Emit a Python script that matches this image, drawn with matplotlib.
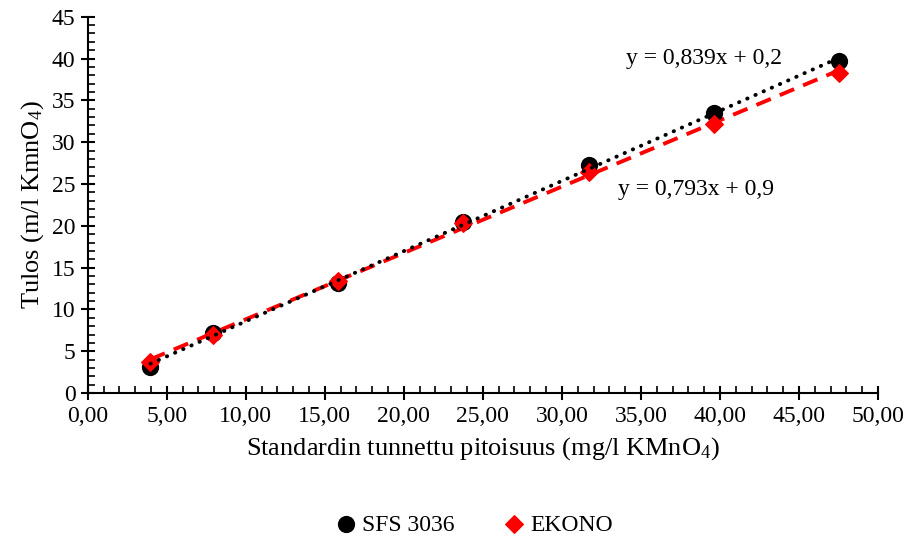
import numpy as np
import matplotlib
matplotlib.use("Agg")
import matplotlib.pyplot as plt
from matplotlib.ticker import MultipleLocator, FuncFormatter

plt.rcParams['font.family'] = ['Liberation Serif', 'DejaVu Serif']
plt.rcParams['mathtext.fontset'] = 'custom'
plt.rcParams['mathtext.rm'] = 'Liberation Serif'
plt.rcParams['mathtext.it'] = 'Liberation Serif:italic'

# data
standard = [3.96, 7.92, 15.85, 23.77, 31.69, 39.62, 47.54]
sfs_3036 = [3.1, 7.2, 13.2, 20.4, 27.3, 33.5, 39.7]
ekono = [3.7, 6.9, 13.4, 20.3, 26.4, 32.2, 38.3]
sfs_fit = (0.839, 0.2)
ekono_fit = (0.793, 0.9)
sfs_eq = "y = 0,839x + 0,2"
ekono_eq = "y = 0,793x + 0,9"

fig = plt.figure(figsize=(9.06, 5.40), dpi=100)
ax = fig.add_axes([0.097, 0.272, 0.872, 0.697])

x = np.array(standard)
ax.scatter(x, sfs_3036, s=130, color='black', marker='o', zorder=3, label='SFS 3036')
ax.scatter(x, ekono, s=80, color='#ff0000', marker='D', zorder=4, label='EKONO')

# trend lines
xl = np.array([x.min(), x.max()])
ax.plot(xl, sfs_fit[0] * xl + sfs_fit[1], color='black', linestyle=(0, (0.1, 2.2)),
        linewidth=2.8, dash_capstyle='round', zorder=5)
ax.plot(xl, ekono_fit[0] * xl + ekono_fit[1], color='#ff0000', linestyle=(0, (4, 2.5)),
        linewidth=2.8, zorder=2)

ax.text(39.0, 40.0, sfs_eq, fontsize=17, ha='center', va='center')
ax.text(38.5, 24.3, ekono_eq, fontsize=17, ha='center', va='center')

ax.set_xlim(0, 50)
ax.set_ylim(0, 45)
ax.xaxis.set_major_locator(MultipleLocator(5))
ax.xaxis.set_minor_locator(MultipleLocator(1))
ax.yaxis.set_major_locator(MultipleLocator(5))
ax.yaxis.set_minor_locator(MultipleLocator(1))
ax.xaxis.set_major_formatter(FuncFormatter(lambda v, p: f"{v:.2f}".replace('.', ',')))
ax.tick_params(which='major', direction='inout', length=10, width=1.5, labelsize=17, pad=4)
ax.tick_params(which='minor', direction='in', length=5, width=1.2)

for s in ['top', 'right']:
    ax.spines[s].set_visible(False)
for s in ['left', 'bottom']:
    ax.spines[s].set_linewidth(1.5)

ax.set_xlabel('Standardin tunnettu pitoisuus (mg/l KMnO$_{4}$)', fontsize=19, labelpad=6)
ax.set_ylabel('Tulos (m/l KmnO$_{4}$)', fontsize=19, labelpad=4)

fig.legend(loc='center', bbox_to_anchor=(0.516, 0.028), ncol=2, frameon=False,
           fontsize=17, handletextpad=-0.3, columnspacing=1.5, markerscale=1.0)

fig.savefig('out.png', dpi=100)
